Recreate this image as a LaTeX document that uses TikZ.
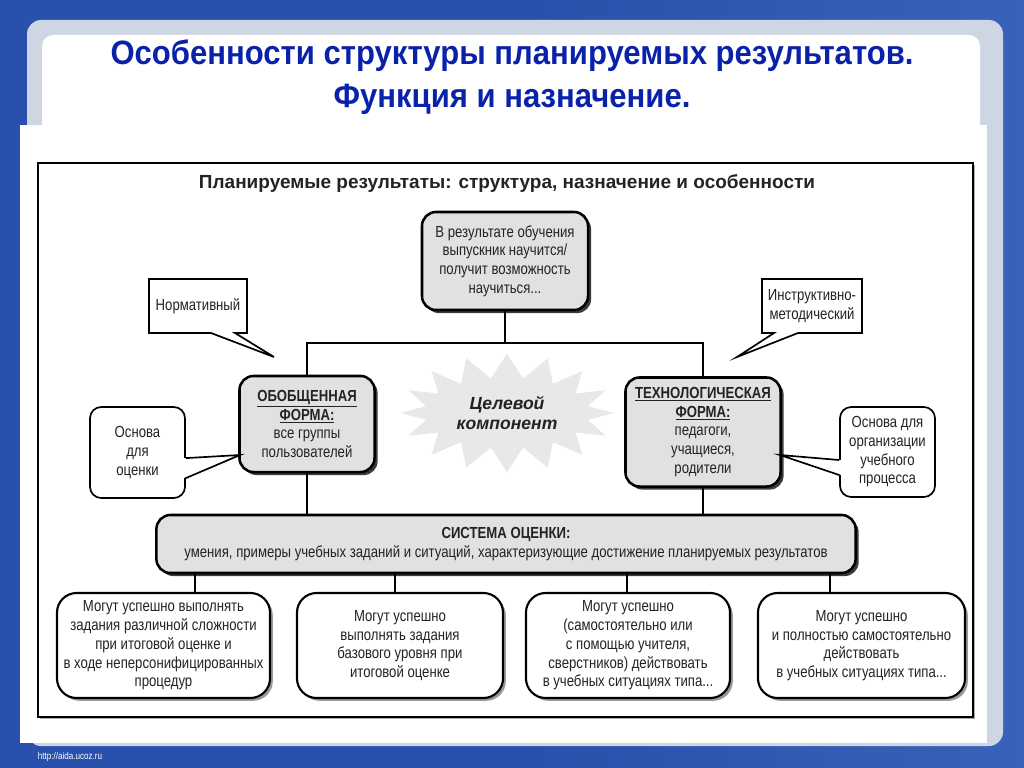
\documentclass[tikz,border=0pt]{standalone}
\usepackage{fontspec}
\setmainfont{Liberation Sans}
\newfontfamily\narrowfont[FakeStretch=0.82]{Liberation Sans}
\newfontfamily\titlefont[FakeStretch=0.92]{Liberation Sans}
\usetikzlibrary{positioning,shapes.symbols,shapes.callouts,shadows}

\definecolor{fonblue}{RGB}{40,80,172}
\definecolor{fonlight}{RGB}{68,112,196}
\definecolor{ramka}{RGB}{206,214,228}
\definecolor{titleblue}{RGB}{10,34,170}
\definecolor{boxgray}{RGB}{225,225,225}
\definecolor{stargray}{RGB}{232,232,232}
\definecolor{textgray}{RGB}{35,35,35}

\newcommand\boxfont{\narrowfont\fontsize{11.4}{13.3}\selectfont}

\begin{document}
\begin{tikzpicture}[x=0.025cm, y=-0.025cm,
    link/.style={line width=1.4pt},
    gbox/.style={draw, line width=1.8pt, fill=boxgray, rounded corners=10pt,
        align=center, text=textgray, font=\boxfont,
        drop shadow={shadow xshift=2.2pt, shadow yshift=-2.2pt, fill=black!85, opacity=0.9}},
    wbox/.style={draw, line width=1.5pt, fill=white, rounded corners=14pt,
        align=center, text=textgray, font=\boxfont,
        drop shadow={shadow xshift=2pt, shadow yshift=-2pt, fill=black!50, opacity=0.8}},
    note/.style={draw, line width=1.2pt, fill=white, align=center,
        text=textgray, font=\boxfont},
    pointer/.style={line width=1.2pt}]
    \useasboundingbox (0,0) rectangle (1024,768);

    % Фон слайда
    \fill[fonblue] (0,0) rectangle (1024,768);
    \shade[left color=fonblue, right color=fonlight, opacity=0.6] (512,0) rectangle (1024,768);
    \fill[ramka, rounded corners=10pt] (27,20) rectangle (1003,746);
    \fill[white, rounded corners=8pt] (42,35) rectangle (980,140);
    \fill[white] (20,125) rectangle (987,743);

    % Заголовок
    \node[font=\titlefont\bfseries\fontsize{24}{31}\selectfont, text=titleblue, align=center] (title) at (512,77)
        {Особенности структуры планируемых результатов.\\Функция и назначение.};
    \node[text=white, font=\narrowfont\fontsize{7}{8}\selectfont, anchor=west] (url) at (33,757) {http://aida.ucoz.ru};

    % Рамка схемы
    \draw[line width=1.3pt, fill=white, drop shadow={shadow xshift=1.5pt, shadow yshift=-1.5pt, fill=black!40, opacity=0.8}]
        (38,163) rectangle (973,717);
    \node[font=\bfseries\fontsize{13.5}{15}\selectfont, text=textgray] (head) at (507,184)
        {Планируемые результаты: структура, назначение и особенности};

    % Верхний блок и формы
    \node[gbox, minimum width=4.15cm, minimum height=2.45cm] (res) at (505,261)
        {В результате обучения\\выпускник научится/\\получит возможность\\научиться...};
    \node[gbox, minimum width=3.375cm, minimum height=2.4cm] (gen) at (307,424)
        {\underline{\textbf{ОБОБЩЕННАЯ}}\\\underline{\textbf{ФОРМА:}}\\все группы\\пользователей};
    \node[gbox, minimum width=3.875cm, minimum height=2.725cm] (tech) at (703,432)
        {\underline{\textbf{ТЕХНОЛОГИЧЕСКАЯ}}\\\underline{\textbf{ФОРМА:}}\\педагоги,\\учащиеся,\\родители};
    \node[starburst, starburst points=16, starburst point height=0.6cm, random starburst=0,
        fill=stargray, align=center, inner xsep=0.2cm, inner ysep=0.2cm,
        font=\bfseries\itshape\fontsize{12.5}{14.5}\selectfont, text=textgray] (goal) at (507,413)
        {Целевой\\компонент};

    % Линии от верхнего блока
    \coordinate (bus) at (505,343);
    \draw[link] (res.south) -- (bus);
    \draw[link] (gen.north) |- (bus) -| (tech.north);

    % Выноски
    \coordinate (tipN) at (274,357);
    \coordinate (tipI) at (737,357);
    \node[note, rectangle callout, callout absolute pointer={(tipN)}, callout pointer width=0.6cm,
        minimum width=2.45cm, minimum height=1.35cm] (norm) at (198,306) {Нормативный};
    \node[note, rectangle callout, callout absolute pointer={(tipI)}, callout pointer width=0.6cm,
        minimum width=2.5cm, minimum height=1.35cm] (instr) at (812,306) {Инструктивно-\\методический};

    \node[note, rounded corners=8pt, minimum width=2.375cm, minimum height=2.275cm] (basisL) at (137.5,452.5)
        {Основа\\для\\оценки};
    \node[note, rounded corners=8pt, minimum width=2.375cm, minimum height=2.25cm] (basisR) at (887.5,452)
        {Основа для\\организации\\учебного\\процесса};
    \coordinate (tipL) at (240,455);
    \coordinate (tipR) at (780,455);
    \fill[white] ([xshift=-1.5pt, yshift=-0.14cm]basisL.east) -- (tipL) -- ([xshift=-1.5pt, yshift=-0.64cm]basisL.east) -- cycle;
    \draw[pointer] ([yshift=-0.14cm]basisL.east) -- (tipL) -- ([yshift=-0.64cm]basisL.east);
    \fill[white] ([xshift=1.5pt, yshift=-0.2cm]basisR.west) -- (tipR) -- ([xshift=1.5pt, yshift=-0.575cm]basisR.west) -- cycle;
    \draw[pointer] ([yshift=-0.2cm]basisR.west) -- (tipR) -- ([yshift=-0.575cm]basisR.west);

    % Система оценки
    \node[gbox, minimum width=17.475cm, minimum height=1.45cm] (sys) at (506,544)
        {\textbf{СИСТЕМА ОЦЕНКИ:}\\умения, примеры учебных заданий и ситуаций, характеризующие достижение планируемых результатов};
    \draw[link] (gen.south) -- (gen.south |- sys.north);
    \draw[link] (tech.south) -- (tech.south |- sys.north);

    % Нижние блоки
    \foreach \n/\cx/\w/\txt in {
        1/163.5/5.325/{Могут успешно выполнять\\задания различной сложности\\при итоговой оценке и\\в ходе неперсонифицированных\\процедур},
        2/400/5.15/{Могут успешно\\выполнять задания\\базового уровня при\\итоговой оценке},
        3/628/5.1/{Могут успешно\\(самостоятельно или\\с помощью учителя,\\сверстников) действовать\\в учебных ситуациях типа...},
        4/861.5/5.175/{Могут успешно\\и полностью самостоятельно\\действовать\\в учебных ситуациях типа...}}
    {
        \node[wbox, minimum width=\w cm, minimum height=2.625cm] (b\n) at (\cx,645.5) {\txt};
    }
    \foreach \n/\lx in {1/195, 2/395, 3/627, 4/830}
        \draw[link] (sys.south -| \lx,0) -- (b\n.north -| \lx,0);
\end{tikzpicture}
\end{document}
